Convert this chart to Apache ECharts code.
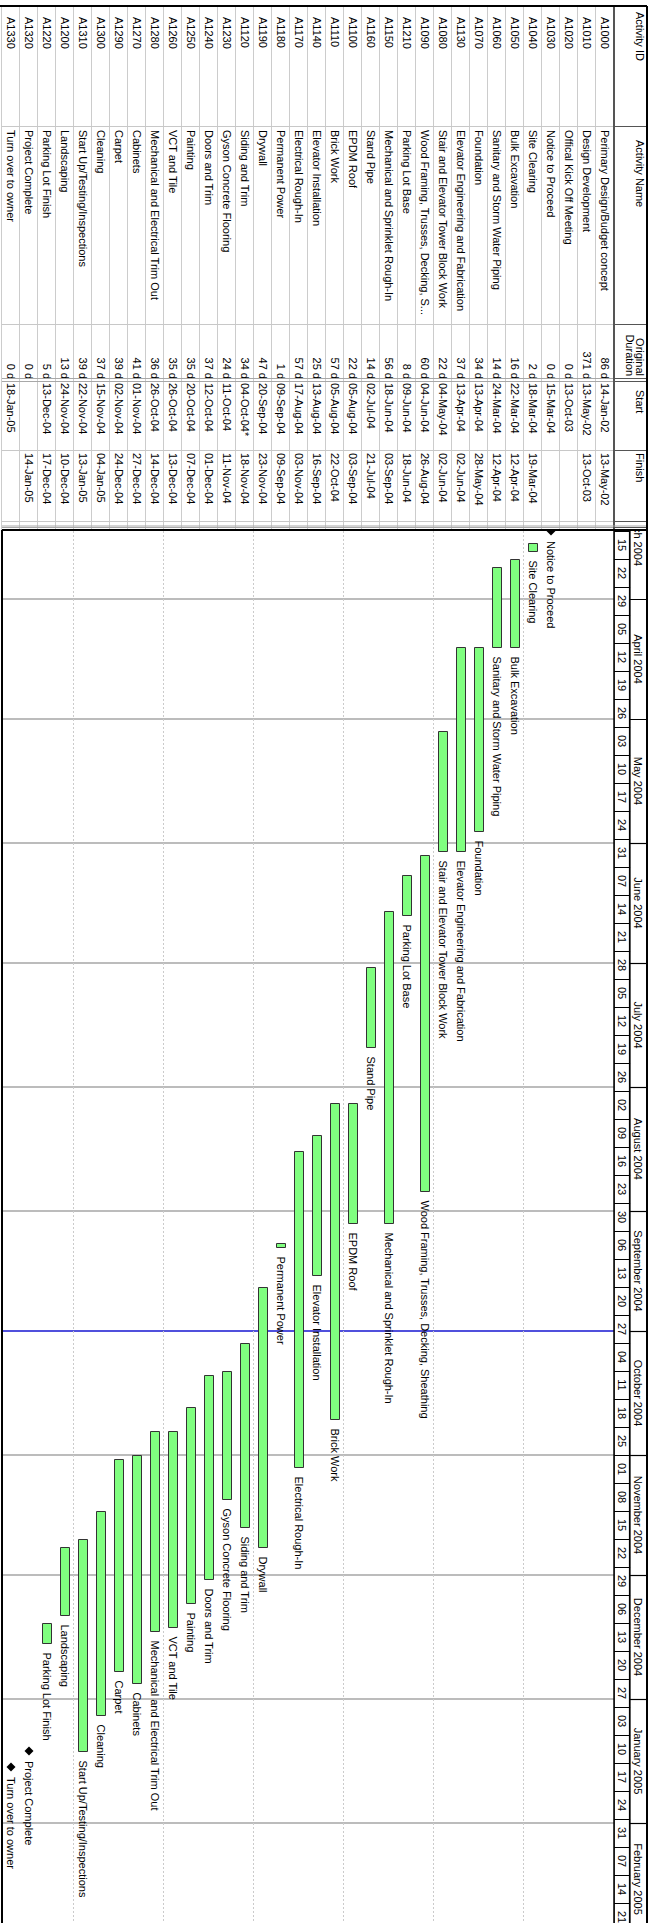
<!DOCTYPE html>
<html>
<head>
<meta charset="utf-8">
<script src="https://cdn.jsdelivr.net/npm/echarts/dist/echarts.min.js"></script>
<style>
html,body{margin:0;padding:0;background:#fff;width:657px;height:1923px;overflow:hidden;}
#wrap{position:absolute;left:0;top:0;width:1923px;height:657px;transform-origin:0 0;transform:translate(657px,0) rotate(90deg);}
#chart{width:1923px;height:657px;background:#fff;}
</style>
</head>
<body>
<div id="wrap"><div id="chart"></div></div>
<script>
// ---------------- data ----------------
const ids = ['A1000','A1010','A1020','A1030','A1040','A1050','A1060','A1070','A1130','A1080','A1090','A1210','A1150','A1160','A1100','A1110','A1140','A1170','A1180','A1190','A1120','A1230','A1240','A1250','A1260','A1280','A1270','A1290','A1300','A1310','A1200','A1220','A1320','A1330'];
const names = ['Perimary Design/Budget concept','Design Development','Offical Kick Off Meeting','Notice to Proceed','Site Clearing','Bulk Excavation','Sanitary and Storm Water Piping','Foundation','Elevator Engineering and Fabrication','Stair and Elevator Tower Block Work','Wood Framing, Trusses, Decking, S...','Parking Lot Base','Mechanical and Sprinklet Rough-In','Stand Pipe','EPDM Roof','Brick Work','Elevator Installation','Electrical Rough-In','Permanent Power','Drywall','Siding and Trim','Gyson Concrete Flooring','Doors and Trim','Painting','VCT and Tile','Mechanical and Electrical Trim Out','Cabinets','Carpet','Cleaning','Start Up/Testing/Inspections','Landscaping','Parking Lot Finish','Project Complete','Turn over to owner'];
const barLabels = ['Perimary Design/Budget concept','Design Development','Offical Kick Off Meeting','Notice to Proceed','Site Clearing','Bulk Excavation','Sanitary and Storm Water Piping','Foundation','Elevator Engineering and Fabrication','Stair and Elevator Tower Block Work','Wood Framing, Trusses, Decking, Sheathing','Parking Lot Base','Mechanical and Sprinklet Rough-In','Stand Pipe','EPDM Roof','Brick Work','Elevator Installation','Electrical Rough-In','Permanent Power','Drywall','Siding and Trim','Gyson Concrete Flooring','Doors and Trim','Painting','VCT and Tile','Mechanical and Electrical Trim Out','Cabinets','Carpet','Cleaning','Start Up/Testing/Inspections','Landscaping','Parking Lot Finish','Project Complete','Turn over to owner'];
const durations = [86,371,0,0,2,16,14,34,37,22,60,8,56,14,22,57,25,57,1,47,34,24,37,35,35,36,41,39,37,39,13,5,0,0];
const starts = ['14-Jan-02','13-May-02','13-Oct-03','15-Mar-04','18-Mar-04','22-Mar-04','24-Mar-04','13-Apr-04','13-Apr-04','04-May-04','04-Jun-04','09-Jun-04','18-Jun-04','02-Jul-04','05-Aug-04','05-Aug-04','13-Aug-04','17-Aug-04','09-Sep-04','20-Sep-04','04-Oct-04*','11-Oct-04','12-Oct-04','20-Oct-04','26-Oct-04','26-Oct-04','01-Nov-04','02-Nov-04','15-Nov-04','22-Nov-04','24-Nov-04','13-Dec-04','','18-Jan-05'];
const finishes = ['13-May-02','13-Oct-03','','','19-Mar-04','12-Apr-04','12-Apr-04','28-May-04','02-Jun-04','02-Jun-04','26-Aug-04','18-Jun-04','03-Sep-04','21-Jul-04','03-Sep-04','22-Oct-04','16-Sep-04','03-Nov-04','09-Sep-04','23-Nov-04','18-Nov-04','11-Nov-04','01-Dec-04','07-Dec-04','13-Dec-04','14-Dec-04','27-Dec-04','24-Dec-04','04-Jan-05','13-Jan-05','10-Dec-04','17-Dec-04','14-Jan-05',''];
const monthLabels = ['March 2004','April 2004','May 2004','June 2004','July 2004','August 2004','September 2004','October 2004','November 2004','December 2004','January 2005','February 2005'];
const weekLabels = ['15','22','29','05','12','19','26','03','10','17','24','31','07','14','21','28','05','12','19','26','02','09','16','23','30','06','13','20','27','04','11','18','25','01','08','15','22','29','06','13','20','27','03','10','17','24','31','07','14','21'];
const dataDateText = '01-Oct-04';
const timeStartText = '15-Mar-04';
const headerCols = ['Activity ID','Activity Name','Original','Duration','Start','Finish'];

// ---------------- helpers ----------------
const DAY = 86400000;
const MON = {Jan:0,Feb:1,Mar:2,Apr:3,May:4,Jun:5,Jul:6,Aug:7,Sep:8,Oct:9,Nov:10,Dec:11};
function parseD(s){ if(!s) return null; const p = s.replace('*','').split('-'); return Date.UTC(2000 + (+p[2]), MON[p[1]], +p[0]); }
const axisStart = parseD(timeStartText);
const axisEnd = axisStart + 348 * DAY;
const dataDate = parseD(dataDateText);
const FF = '"Liberation Sans", Arial, sans-serif';
const FONT = '11px ' + FF;

// bars & milestones: [start, end, row, kind, idx]
const barData = [];
ids.forEach((id, i) => {
  if (durations[i] > 0) {
    const s = parseD(starts[i]), e = parseD(finishes[i]) + DAY;
    if (e >= axisStart) barData.push([s, e, i, 0, i]);
  } else {
    const d = parseD(starts[i]) || parseD(finishes[i]);
    if (d >= axisStart) barData.push([d, d, i, 1, i]);
  }
});

// vertical guide lines: month starts (kind 0) + data date (kind 1)
const guideData = [];
monthLabels.forEach((m, k) => { if (k > 0) guideData.push([Date.UTC(2004, 2 + k, 1), 0, 0]); });
guideData.push([dataDate, 0, 1]);

// header (month + week cells): [start, end, kind, idx]
const headerData = [];
monthLabels.forEach((m, k) => {
  headerData.push([Date.UTC(2004, 2 + k, 1), Date.UTC(2004, 3 + k, 1), 0, k]);
});
weekLabels.forEach((w, k) => {
  const s = axisStart + 7 * k * DAY;
  headerData.push([s, s + 7 * DAY, 1, k]);
});

function txt(x, y, t, align, extra){
  return Object.assign({type:'text', style:{x:x, y:y, text:t, font:FONT, fontSize:11, fontFamily:FF, fill:'#000',
    align:align||'left', textAlign:align||'left', verticalAlign:'middle', textVerticalAlign:'middle'}}, extra||{});
}

function renderBar(params, api){
  const row = api.value(2);
  const p0 = api.coord([api.value(0), row]);
  const p1 = api.coord([api.value(1), row]);
  const kind = api.value(3);
  const idx = api.value(4);
  const cy = Math.round(p0[1]);
  if (kind === 1) {
    const r = 4.5, x = p0[0];
    return {type:'group', children:[
      {type:'polygon', shape:{points:[[x, cy - r],[x + r, cy],[x, cy + r],[x - r, cy]]}, style:{fill:'#000'}},
      txt(x + 10, cy, barLabels[idx], 'left')
    ]};
  }
  const x0 = Math.round(p0[0]) + 0.5, x1 = Math.round(p1[0]) + 0.5;
  return {type:'group', children:[
    {type:'rect', shape:{x:x0, y:cy - 4.5, width:Math.max(x1 - x0, 2), height:9}, style:{fill:'#80ff80', stroke:'#333333', lineWidth:1}},
    txt(x1 + 9, cy, barLabels[idx], 'left')
  ]};
}

function renderGuide(params, api){
  const cs = params.coordSys;
  const x = Math.round(api.coord([api.value(0), 0])[0]);
  const kind = api.value(2);
  return {type:'line', shape:{x1:x, y1:cs.y, x2:x, y2:cs.y + cs.height},
    style:{stroke: kind === 1 ? '#5050dc' : '#bcbcbc', lineWidth:2}};
}

function renderHeader(params, api){
  const cs = params.coordSys;
  const a = api.coord([api.value(0), 0])[0];
  const b = api.coord([api.value(1), 0])[0];
  const kind = api.value(2), idx = api.value(3);
  const top = cs.y;
  if (kind === 0) {
    const xa = Math.round(a) + 0.5;
    return {type:'group', children:[
      {type:'line', shape:{x1:xa, y1:top, x2:xa, y2:top + 17}, style:{stroke:'#000', lineWidth:1.2}},
      txt((a + b) / 2, top + 9, monthLabels[idx], 'center')
    ]};
  }
  const xa = Math.round(a) + 0.5, xb = Math.round(b) + 0.5;
  return {type:'group', children:[
    {type:'rect', shape:{x:xa, y:top + 17.5, width:xb - xa, height:15.5}, style:{fill:'none', stroke:'#000', lineWidth:1.2}},
    txt((a + b) / 2, top + 25.5, weekLabels[idx], 'center')
  ]};
}

const chart = echarts.init(document.getElementById('chart'), null, {renderer:'svg', width:1923, height:657});
chart.setOption({
  animation:false,
  backgroundColor:'#fff',
  grid:[{left:531, top:43, width:1392, height:612}, {left:531, top:10, width:1392, height:33}],
  xAxis:[
    {type:'time', gridIndex:0, min:axisStart, max:axisEnd, show:false},
    {type:'time', gridIndex:1, min:axisStart, max:axisEnd, show:false}
  ],
  yAxis:[
    {type:'value', gridIndex:0, min:-0.5, max:ids.length - 0.5, inverse:true, show:false},
    {type:'value', gridIndex:1, min:0, max:1, show:false}
  ],
  series:[
    {type:'custom', xAxisIndex:0, yAxisIndex:0, clip:true, z:1, encode:{x:0, y:1}, data:guideData, renderItem:renderGuide, silent:true},
    {type:'custom', xAxisIndex:0, yAxisIndex:0, clip:true, z:3, encode:{x:[0,1], y:2}, data:barData, renderItem:renderBar, silent:true},
    {type:'custom', xAxisIndex:1, yAxisIndex:1, clip:true, z:3, encode:{x:[0,1], y:2}, data:headerData, renderItem:renderHeader, silent:true}
  ]
});

// ---------------- table + frame via graphic ----------------
const G = [];
function ln(x1, y1, x2, y2, stroke, w, dash, z){
  G.push({type:'line', silent:true, z:z||5, shape:{x1:x1, y1:y1, x2:x2, y2:y2}, style:{stroke:stroke, lineWidth:w||1, lineDash:dash||null}});
}
const yc0 = chart.convertToPixel({yAxisIndex:0}, 0);
const rowH = chart.convertToPixel({yAxisIndex:0}, 1) - yc0;
const rowTop = yc0 - rowH / 2;           // 43
const nRows = ids.length;
const tableBottom = rowTop + rowH * nRows; // 655
const chartLeft = chart.convertToPixel({xAxisIndex:0}, axisStart);
const chartRight = chart.convertToPixel({xAxisIndex:0}, axisEnd);
const L = 6, HT = 10;
const colX = {id:126, name:324, d1:378, d2:381, start:450, fin:521, ex:527};

// row separators in table
for (let k = 1; k <= nRows; k++) {
  const y = Math.round(rowTop + rowH * k) + 0.5;
  ln(L, y, chartLeft - 1, y, '#cccccc', 1);
}
[colX.id, colX.name, colX.start, colX.fin].forEach(x => {
  ln(x + 0.5, rowTop, x + 0.5, tableBottom, '#c8c8c8', 1);
  ln(x + 0.5, HT, x + 0.5, rowTop, '#555', 1);
});
[colX.d1, colX.d2, colX.ex].forEach(x => {
  ln(x + 0.5, rowTop, x + 0.5, tableBottom, '#a8a8a8', 1);
  ln(x + 0.5, HT, x + 0.5, rowTop, '#555', 1);
});
ln(L, rowTop, chartLeft, rowTop, '#555', 2);

// table header text
G.push(txt(12, 17, headerCols[0], 'left'));
G.push(txt(140, 17, headerCols[1], 'left'));
G.push(txt(376, 17, headerCols[2], 'right'));
G.push(txt(376, 27, headerCols[3], 'right'));
G.push(txt(390, 17, headerCols[4], 'left'));
G.push(txt(453, 17, headerCols[5], 'left'));

// table rows text
ids.forEach((id, i) => {
  const y = Math.round(chart.convertToPixel({yAxisIndex:0}, i));
  G.push(txt(17, y, id, 'left'));
  G.push(txt(130, y, names[i], 'left'));
  G.push(txt(379, y, durations[i] + ' d', 'right'));
  if (starts[i]) G.push(txt(383, y, starts[i], 'left'));
  if (finishes[i]) G.push(txt(453, y, finishes[i], 'left'));
});

// dotted row-group lines in chart area
for (let k = 5; k < nRows; k += 5) {
  const y = Math.round(rowTop + rowH * k) + 0.5;
  ln(chartLeft, y, chartRight, y, '#cbcbcb', 1, [2, 2], 0);
}

// frame
ln(L, HT, 1923, HT, '#000', 2, null, 50);
ln(L, HT, L, 657, '#000', 2, null, 50);
ln(chartLeft - 1, HT, chartLeft - 1, tableBottom, '#000', 2, null, 50);
ln(chartLeft - 5, HT, chartLeft - 5, tableBottom, '#a8a8a8', 1, null, 40);
ln(chartLeft, rowTop, chartRight, rowTop, '#000', 1.5, null, 50);
ln(chartLeft, HT + 17, chartRight, HT + 17, '#000', 1.2, null, 50);
ln(chartLeft - 1, tableBottom, chartRight, tableBottom, '#000', 2, null, 50);

chart.setOption({graphic:{elements:G}});
</script>
</body>
</html>
